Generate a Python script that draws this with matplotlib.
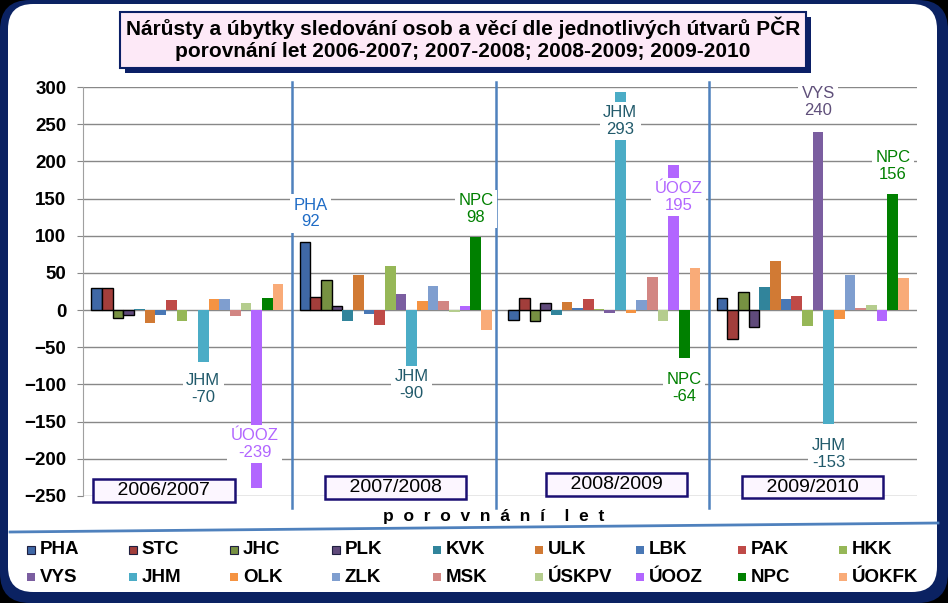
import matplotlib
matplotlib.use("Agg")
from matplotlib import pyplot as plt
from matplotlib.patches import FancyBboxPatch, Rectangle
from matplotlib.lines import Line2D
import numpy as np

plt.rcParams['font.family'] = ['Liberation Sans', 'DejaVu Sans']

# ---- data ----
periods = ["2006/2007", "2007/2008", "2008/2009", "2009/2010"]
units = ["PHA", "STC", "JHC", "PLK", "KVK", "ULK", "LBK", "PAK", "HKK",
         "VYS", "JHM", "OLK", "ZLK", "MSK", "ÚSKPV", "ÚOOZ", "NPC", "ÚOKFK"]
colors = ["#3F68A6", "#A23E3B", "#779142", "#604A7B", "#31849B", "#D17A34",
          "#4978B5", "#BF4A47", "#96B757", "#7B5EA0", "#4BACC6", "#F59342",
          "#7F9ECF", "#D28683", "#B5CD8E", "#B266FF", "#008000", "#F9AB78"]
edged = ["PHA", "STC", "JHC", "PLK"]

d_2006_2007 = [30, 30, -10, -7, 2, -17, -6, 13, -15, 0, -70, 15, 15, -8, 10, -239, 16, 35]
d_2007_2008 = [92, 17, 40, 6, -15, 47, -5, -20, 59, 21, -90, 12, 32, 12, -3, 6, 98, -27]
d_2008_2009 = [-13, 16, -15, 9, -6, 11, 3, 15, 1, -4, 293, -4, 14, 44, -15, 195, -64, 57]
d_2009_2010 = [16, -39, 24, -23, 31, 66, 15, 19, -21, 240, -153, -12, 47, 3, 7, -15, 156, 43]

# callouts: (period index, unit, x shift, label y, colour)
callouts = [
    (0, "JHM", 0.0, -106, "#215A6B"),
    (0, "ÚOOZ", -0.01, -180, "#B266FF"),
    (1, "PHA", 0.027, 130, "#1F6CC6"),
    (1, "NPC", 0.0, 136, "#008000"),
    (1, "JHM", 0.0, -101, "#215A6B"),
    (2, "JHM", 0.0, 254, "#215A6B"),
    (2, "ÚOOZ", 0.024, 152, "#B266FF"),
    (2, "NPC", 0.0, -105, "#008000"),
    (3, "VYS", 0.0, 280, "#5F4F7A"),
    (3, "NPC", 0.0, 194, "#008000"),
    (3, "JHM", 0.0, -194, "#215A6B"),
]
# period boxes: (x, y)
period_pos = [(-0.112, -243), (1.0, -239), (2.06, -235), (3.0, -238)]
separators = [0.5, 1.48, 2.5]

values = np.array([d_2006_2007, d_2007_2008, d_2008_2009, d_2009_2010])

W, H = 948, 603
fig = plt.figure(figsize=(W / 100, H / 100), dpi=100)
fig.patch.set_facecolor("black")


def box(x0, y0, x1, y1, **kw):
    # pixel coordinates, origin top-left
    p = FancyBboxPatch((x0 / 100, (H - y1) / 100), (x1 - x0) / 100, (y1 - y0) / 100,
                       transform=fig.dpi_scale_trans, **kw)
    fig.add_artist(p)
    return p


# frame
box(0, 0, W, H, boxstyle="round,pad=0,rounding_size=0.3", fc="#0B2262", ec="none", zorder=-10)
box(8, 4, 937, 592, boxstyle="round,pad=0,rounding_size=0.25", fc="white", ec="none", zorder=-9)

# title
box(125, 17, 811, 73, boxstyle="square,pad=0", fc="#0B1F66", ec="none", zorder=1)
box(120, 12, 806, 68, boxstyle="square,pad=0", fc="#FDE9F7", ec="#0B1F66", lw=1.5, zorder=2)
fig.text(463 / W, 1 - 39 / H,
         "Nárůsty a úbytky sledování osob a věcí dle jednotlivých útvarů PČR\n"
         "porovnání let 2006-2007; 2007-2008; 2008-2009; 2009-2010",
         ha="center", va="center", fontsize=15, fontweight="bold", linespacing=1.2, zorder=3)

# axes
ax = fig.add_axes([83 / W, 1 - 496 / H, (917 - 83) / W, (496 - 87) / H])
ax.set_facecolor("none")
ax.set_xlim(-0.5, 3.5)
ax.set_ylim(-250, 300)
ax.set_yticks(np.arange(-250, 301, 50))
ax.set_xticks([])
ax.tick_params(axis="y", length=4, color="#888888", labelsize=13.5, pad=8)
for lab in ax.get_yticklabels():
    lab.set_fontweight("bold")
ax.grid(axis="y", color="#888888", lw=1, zorder=0)
for s in ["top", "right", "bottom"]:
    ax.spines[s].set_visible(False)
ax.spines["left"].set_color("#A0A0A0")

x = np.arange(len(periods))
w = 0.0512
offsets = (np.arange(len(units)) - (len(units) - 1) / 2) * w
for i, u in enumerate(units):
    ax.bar(x + offsets[i], values[:, i], width=w, color=colors[i],
           edgecolor="black" if u in edged else "none", lw=1, zorder=2)

for g, u, dx, y, c in callouts:
    i = units.index(u)
    ax.text(x[g] + offsets[i] + dx, y, f"{u}\n{values[g, i]}", ha="center", va="center",
            fontsize=12, color=c, linespacing=1.15, zorder=5,
            bbox=dict(boxstyle="square,pad=0.2", fc="white", ec="none"))

for (px, py), p in zip(period_pos, periods):
    ax.text(px, py, f"    {p}    ", ha="center", va="center", fontsize=14, zorder=6,
            bbox=dict(boxstyle="square,pad=0.15", fc="#FCF6FF", ec="#1B0F73", lw=1.8))

for sx in separators:
    ax.axvline(sx, ymin=-0.029, ymax=1.012, color="#4F81BD", lw=1.8, clip_on=False, zorder=3)

# x label and line under the plot
fig.text(494 / W, 1 - 517 / H, "p  o  r  o  v  n  á  n  í    l  e  t", ha="center", va="center",
         fontsize=12.5, fontweight="bold")
fig.add_artist(Line2D([10 / W, 938 / W], [1 - 532 / H, 1 - 523 / H], color="#4F81BD", lw=2))

# legend, row by row, 9 per row
for i, u in enumerate(units):
    row, col = divmod(i, 9)
    mx = 27 + 101.5 * col
    my = 550 + 27 * row
    fig.add_artist(Rectangle(((mx) / 100, (H - my - 4) / 100), 0.08, 0.08,
                             transform=fig.dpi_scale_trans, fc=colors[i],
                             ec="#1F1F3F" if u in edged else "none", lw=0.8))
    fig.text((mx + 13) / W, 1 - my / H, u, ha="left", va="center",
             fontsize=13.5, fontweight="bold")

fig.savefig("out.png", dpi=100, facecolor=fig.get_facecolor())
